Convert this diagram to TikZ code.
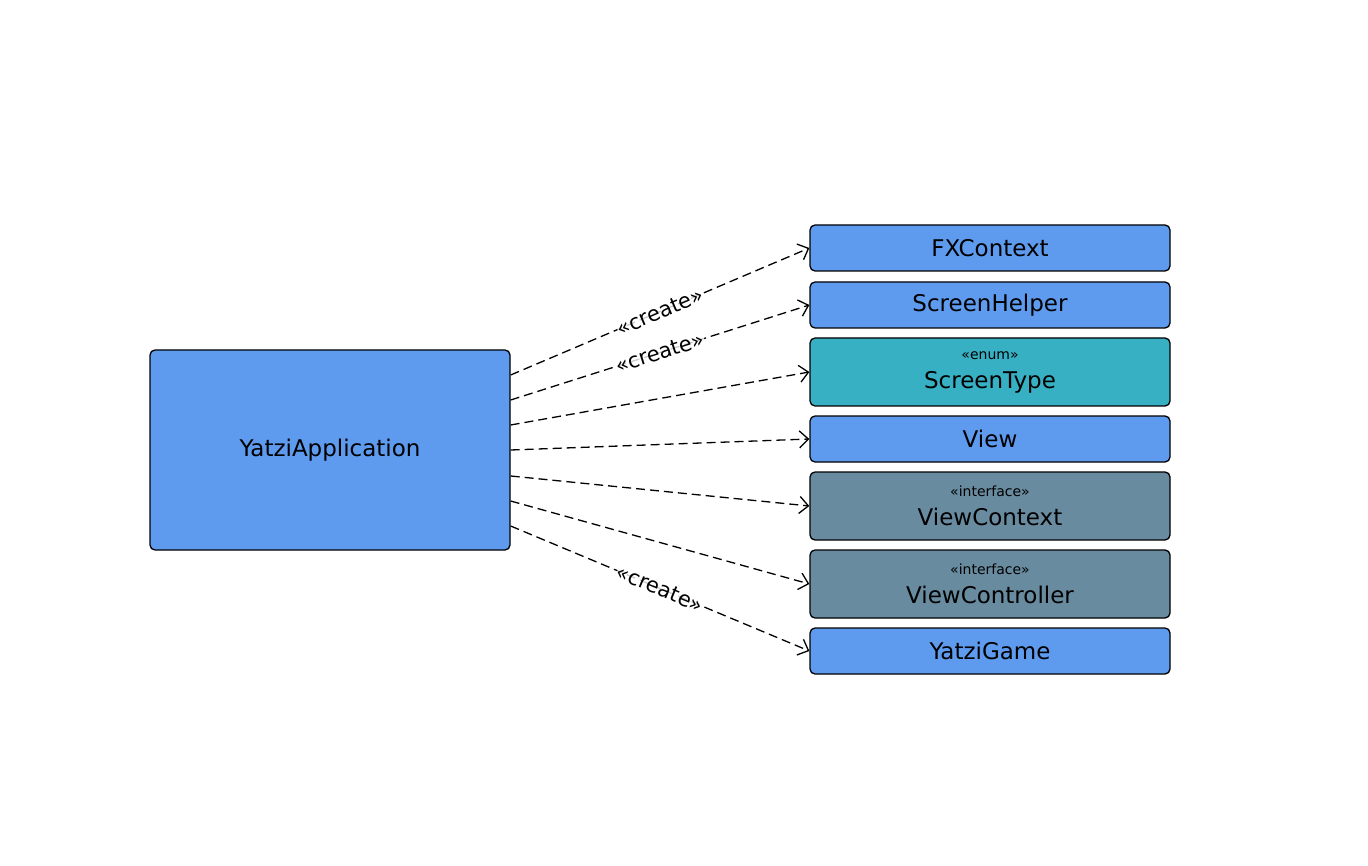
\documentclass[tikz,border=0pt]{standalone}
\usepackage{fontspec}
\setmainfont{DejaVu Sans}
\usetikzlibrary{arrows.meta, positioning}

\definecolor{classblue}{HTML}{5E9BEF}
\definecolor{enumteal}{HTML}{37B0C4}
\definecolor{ifacegray}{HTML}{688BA0}

\tikzset{
    classbox/.style={draw=black, line width=1.3pt, rounded corners=5pt, fill=classblue,
        minimum width=360pt, minimum height=46pt, inner sep=0pt, align=center,
        font=\fontsize{23}{27}\selectfont},
    stereobox/.style={classbox, minimum height=68pt},
    uses/.style={draw=black, line width=1.3pt, dash pattern=on 9pt off 5pt,
        -{Straight Barb[length=9pt, width=17pt]}},
    createlabel/.style={sloped, fill=white, fill opacity=0.8, text opacity=1, inner sep=0pt,
        font=\fontsize{21}{24}\selectfont}
}

\newcommand{\stereo}[2]{{\fontsize{14}{16}\selectfont «#1»}\\[2pt]#2}

\begin{document}
\begin{tikzpicture}[x=1pt, y=-1pt]
    \useasboundingbox (0,0) rectangle (1368,866);

    % The application class
    \node[classbox, minimum height=200pt] (app) at (330, 450) {YatziApplication};

    % Classes it depends on
    \node[classbox] (fx) at (990, 248) {FXContext};
    \node[classbox] (helper) at (990, 305) {ScreenHelper};
    \node[stereobox, fill=enumteal] (type) at (990, 372) {\stereo{enum}{ScreenType}};
    \node[classbox] (view) at (990, 439) {View};
    \node[stereobox, fill=ifacegray] (context) at (990, 506) {\stereo{interface}{ViewContext}};
    \node[stereobox, fill=ifacegray] (controller) at (990, 584) {\stereo{interface}{ViewController}};
    \node[classbox] (game) at (990, 651) {YatziGame};

    % Dependencies
    \draw[uses] ([yshift=75pt]app.east) -- node[createlabel] {«create»} (fx.west);
    \draw[uses] ([yshift=50pt]app.east) -- node[createlabel] {«create»} (helper.west);
    \foreach \target/\dy in {type/25, view/0, context/-26, controller/-51} {
        \draw[uses] ([yshift=\dy pt]app.east) -- (\target.west);
    }
    \draw[uses] ([yshift=-76pt]app.east) -- node[createlabel] {«create»} (game.west);

\end{tikzpicture}
\end{document}
